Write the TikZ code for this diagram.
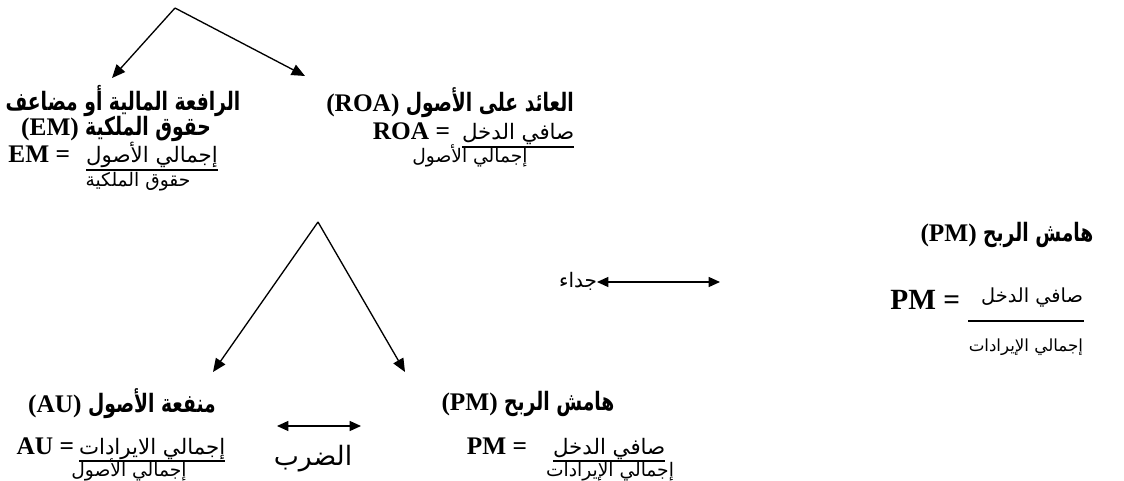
\documentclass[tikz,border=0pt]{standalone}
\usepackage{fontspec}
\setmainfont{Liberation Serif}
\newfontfamily\arabicfont[Script=Arabic]{DejaVu Sans}
\newfontfamily\arabichd[Script=Arabic,FakeStretch=0.74]{DejaVu Sans}
\TeXXeTstate=1
\usetikzlibrary{arrows.meta}
\newcommand{\ar}[1]{{\arabicfont\beginR #1\endR}}
\newcommand{\arh}[1]{{\arabichd\beginR #1\endR}}
\begin{document}
\begin{tikzpicture}[x=0.75pt,y=-0.75pt,
  every node/.style={inner sep=0pt,outer sep=0pt},
  hd/.style={font=\bfseries\fontsize{19}{22}\selectfont},
  lat/.style={font=\bfseries\fontsize{19}{22}\selectfont},
  frac/.style={font=\fontsize{16}{19}\selectfont},
  den/.style={font=\fontsize{14}{17}\selectfont,anchor=base},
  uline/.style={line width=1pt},
  conn/.style={line width=1pt,-{Triangle[length=10pt,width=8.5pt]}},
  dbl/.style={line width=1pt,{Triangle[length=8.5pt,width=7.5pt]}-{Triangle[length=8.5pt,width=7.5pt]}}]
\useasboundingbox (0,0) rectangle (1124,481);
% top split
\coordinate (top) at (175,8);
\coordinate (tl) at (112,78);
\coordinate (tr) at (305,76);
\draw[conn] (top) -- (tl);
\draw[conn] (top) -- (tr);
% EM block
\node[hd] (em1) at (123,101) {\arh{الرافعة المالية أو مضاعف}};
\node[hd] (em2) at (116,129) {(EM) \arh{حقوق الملكية}};
\node[lat,anchor=base east] (emeq) at (70,163) {EM =};
\node[frac,anchor=base west] (emnum) at (86,163) {\ar{إجمالي الأصول}};
\draw[uline] ([yshift=-5.25pt]emnum.base west) -- ([yshift=-5.25pt]emnum.base east);
\node[den] (emden) at (138,186) {\ar{حقوق الملكية}};
% ROA block
\node[hd] (roah) at (450,103) {(ROA) \arh{العائد على الأصول}};
\node[lat,anchor=base east] (roaeq) at (450,140) {ROA =};
\node[frac,anchor=base west] (roanum) at (462,140) {\ar{صافي الدخل}};
\draw[uline] ([yshift=-5.25pt]roanum.base west) -- ([yshift=-5.25pt]roanum.base east);
\node[den] (roaden) at (470,163) {\ar{إجمالي الأصول}};
% middle split
\coordinate (mid) at (318,222);
\coordinate (ml) at (213,372);
\coordinate (mr) at (405,372);
\draw[conn] (mid) -- (ml);
\draw[conn] (mid) -- (mr);
% jadaa
\node[font=\fontsize{15}{17}\selectfont,anchor=east] (jd) at (597,281) {\ar{جداء}};
\coordinate (jdend) at (720,282);
\draw[dbl] (jd.east) ++(0,1) coordinate (jdstart) (jdstart) -- (jdend);
% right PM block
\node[font=\bfseries\fontsize{19}{22}\selectfont] (pmh) at (1007,235) {(PM) \arh{هامش الربح}};
\node[font=\bfseries\fontsize{22}{25}\selectfont,anchor=east] (pmeq) at (960,300) {PM =};
\node[font=\fontsize{14.5}{17}\selectfont,anchor=east] (pmnum) at (1083,298) {\ar{صافي الدخل}};
\draw[uline] (968,321) -- (1084,321);
\node[font=\fontsize{12.5}{15}\selectfont,anchor=east] (pmden) at (1083,347) {\ar{إجمالي الإيرادات}};
% AU block
\node[hd] (auh) at (122,404) {(AU) \arh{منفعة الأصول}};
\coordinate (mul1) at (277,426);
\coordinate (mul2) at (361,426);
\draw[dbl] (mul1) -- (mul2);
\node[font=\fontsize{20}{23}\selectfont] (mul) at (313,459) {\ar{الضرب}};
\node[lat,anchor=base east] (aueq) at (74,454) {AU =};
\node[frac,anchor=base west] (aunum) at (79,454) {\ar{إجمالي الايرادات}};
\draw[uline] ([yshift=-5.25pt]aunum.base west) -- ([yshift=-5.25pt]aunum.base east);
\node[den] (auden) at (129,476) {\ar{إجمالي الأصول}};
% bottom PM block
\node[hd] (pmbh) at (528,404) {(PM) \arh{هامش الربح}};
\node[lat,anchor=base east] (pmbeq) at (527,454) {PM =};
\node[frac,anchor=base west] (pmbnum) at (553,454) {\ar{صافي الدخل}};
\draw[uline] ([yshift=-5.25pt]pmbnum.base west) -- ([yshift=-5.25pt]pmbnum.base east);
\node[den] (pmbden) at (610,476) {\ar{إجمالي الإيرادات}};
\end{tikzpicture}
\end{document}
